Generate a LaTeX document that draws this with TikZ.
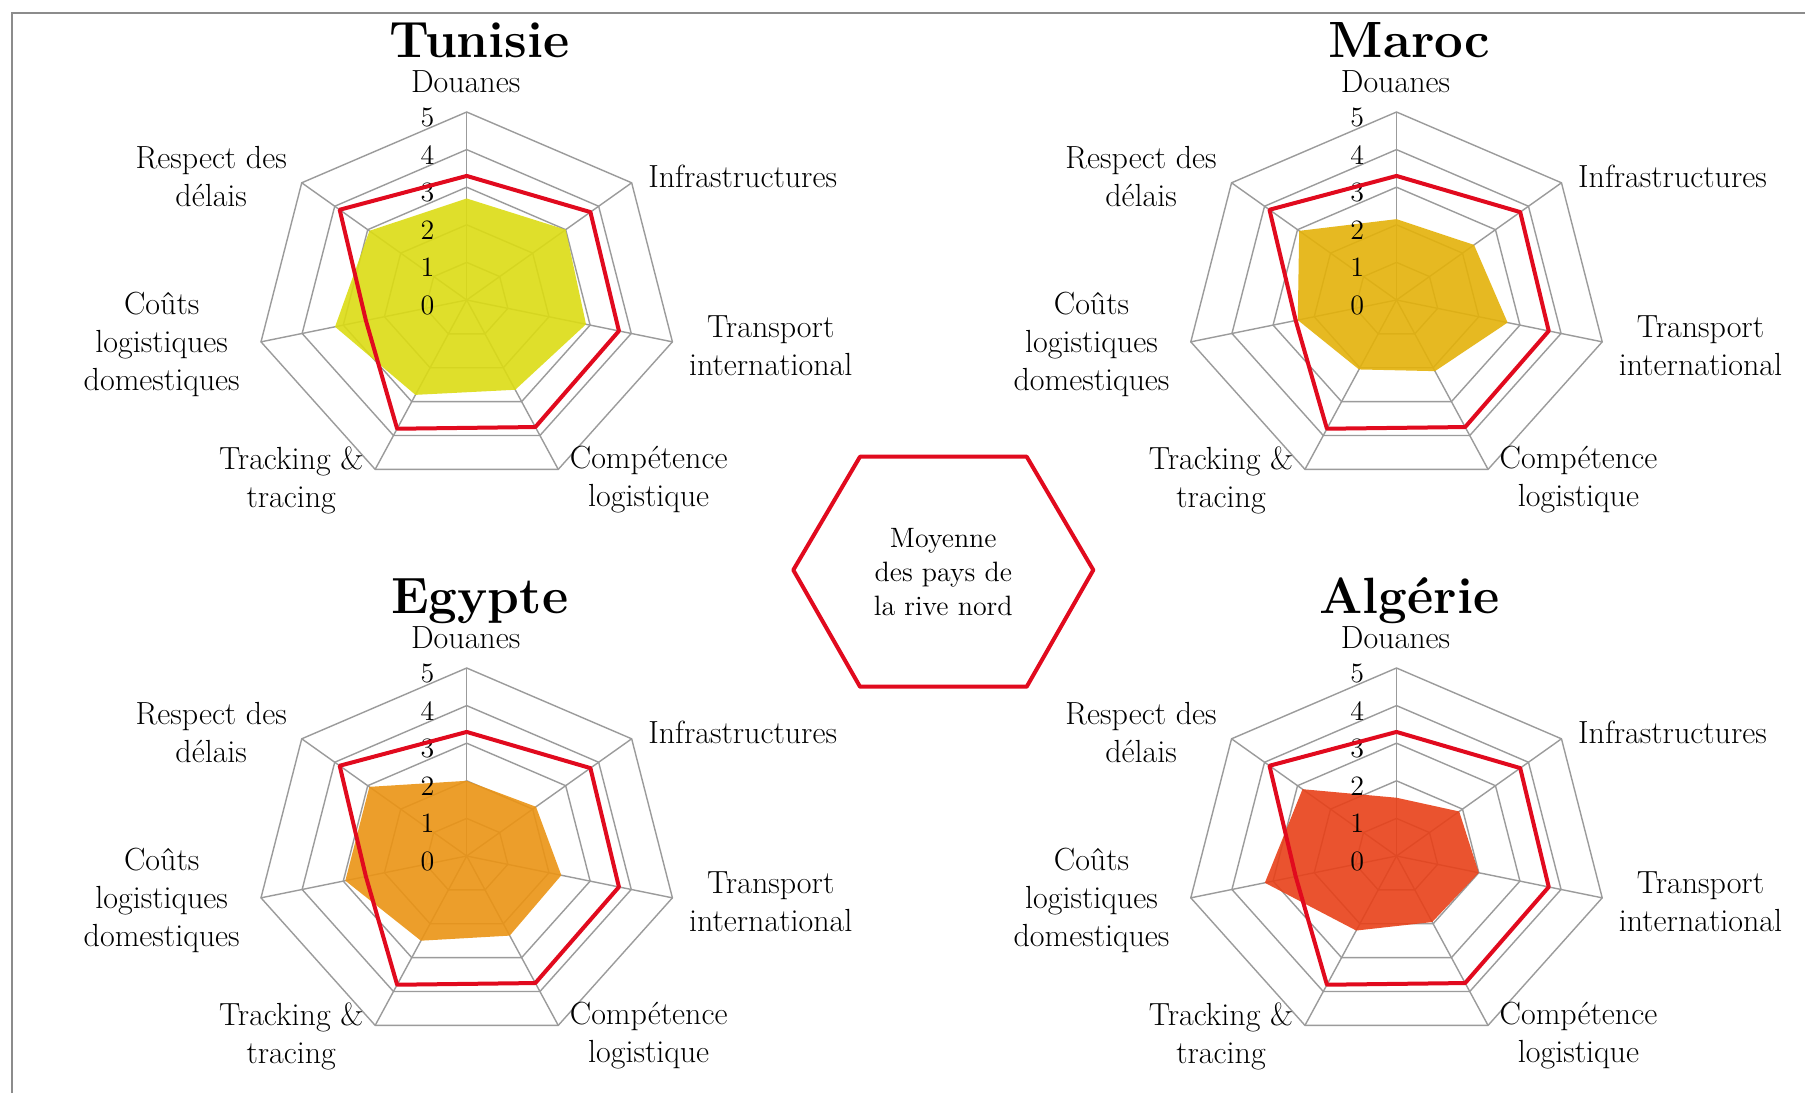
\documentclass[tikz,border=0pt]{standalone}
\definecolor{avgred}{RGB}{225,10,30}
\definecolor{gridgray}{RGB}{155,155,155}
\definecolor{framegray}{RGB}{140,140,140}
\definecolor{tunfill}{RGB}{220,220,20}
\definecolor{marfill}{RGB}{228,178,10}
\definecolor{egyfill}{RGB}{235,148,20}
\definecolor{algfill}{RGB}{232,65,25}
\tikzset{
  gridline/.style={draw=gridgray, line width=0.7pt},
  avgline/.style={draw=avgred, line width=2pt, line join=round},
  datafill/.style={fill=#1, fill opacity=0.9},
  charttitle/.style={font=\fontsize{25.5}{30}\selectfont\bfseries, anchor=base, inner sep=0pt},
  catlabel/.style={font=\fontsize{16}{19}\selectfont, align=center, inner sep=0pt},
  digitlabel/.style={font=\fontsize{14}{16}\selectfont, anchor=east, inner sep=0pt, xshift=-16pt, yshift=-2.5pt},
  legendtext/.style={font=\fontsize{14}{17}\selectfont, align=center, inner sep=0pt}
}
% #1 name, #2 cx, #3 cy, #4 title, #5 colour, #6 values
\newcommand\myradar[6]{%
  \begin{scope}[shift={(#2,#3)}, x=21.1pt, y=18.8pt]
    \foreach \r in {1,...,5}
      \draw[gridline] (90:\r) -- ({90-360/7}:\r) -- ({90-2*360/7}:\r) -- ({90-3*360/7}:\r)
        -- ({90-4*360/7}:\r) -- ({90-5*360/7}:\r) -- ({90-6*360/7}:\r) -- cycle;
    \coordinate (#1-c) at (0,0);
    \foreach \k in {0,...,6} {
      \coordinate (#1-a\k) at ({90-\k*360/7}:5);
      \draw[gridline] (#1-c) -- (#1-a\k);
    }
    \foreach \v [count=\i from 0] in {#6}
      \coordinate (#1-p\i) at ({90-\i*360/7}:\v);
    \foreach \v [count=\i from 0] in {3.3,3.75,3.7,3.75,3.8,2.45,3.85}
      \coordinate (#1-m\i) at ({90-\i*360/7}:\v);
    \fill[datafill=#5] (#1-p0) -- (#1-p1) -- (#1-p2) -- (#1-p3) -- (#1-p4) -- (#1-p5) -- (#1-p6) -- cycle;
    \foreach \v in {0,...,5}
      \node[digitlabel] (#1-d\v) at (0,\v) {\v};
    \draw[avgline] (#1-m0) -- (#1-m1) -- (#1-m2) -- (#1-m3) -- (#1-m4) -- (#1-m5) -- (#1-m6) -- cycle;
  \end{scope}
  \node[charttitle] (#1-title) at ({#2+13},{#3-243}) {#4};
  \node[catlabel] (#1-l0) at ({#2-1},{#3-218}) {Douanes};
  \node[catlabel] (#1-l1) at ({#2+276},{#3-124}) {Infrastructures};
  \node[catlabel] (#1-l2) at ({#2+304},{#3+45.5}) {Transport\\international};
  \node[catlabel] (#1-l3) at ({#2+182},{#3+180}) {Compétence\\logistique};
  \node[catlabel] (#1-l4) at ({#2-175.5},{#3+180}) {Tracking \&\\tracing};
  \node[catlabel] (#1-l5) at ({#2-305},{#3+44}) {Coûts\\logistiques\\domestiques};
  \node[catlabel] (#1-l6) at ({#2-255.5},{#3-123}) {Respect des\\délais};
}
\begin{document}
\begin{tikzpicture}[x=0.5pt, y=-0.5pt]
  \useasboundingbox (0,0) rectangle (1805,1093);
  \fill[white] (0,0) rectangle (1805,1093);
  \draw[framegray, line width=1pt] (11.7,1093) -- (11.7,13.3) -- (1805,13.3);
  \myradar{tun}{466.7}{300}{Tunisie}{tunfill}{2.7,3.0,2.9,2.65,2.8,3.2,2.95}
  \myradar{mar}{1396.5}{300}{Maroc}{marfill}{2.15,2.35,2.7,2.1,2.05,2.4,2.95}
  \myradar{egy}{466.7}{856}{Egypte}{egyfill}{2.0,2.1,2.3,2.35,2.5,2.95,2.95}
  \myradar{alg}{1396.5}{856}{Algérie}{algfill}{1.55,1.9,2.0,1.95,2.2,3.2,2.85}
  \coordinate (h1) at (793.3,570);
  \coordinate (h2) at (860,456.7);
  \coordinate (h3) at (1026.7,456.7);
  \coordinate (h4) at (1093.3,570);
  \coordinate (h5) at (1026.7,686.7);
  \coordinate (h6) at (860,686.7);
  \draw[avgline] (h1) -- (h2) -- (h3) -- (h4) -- (h5) -- (h6) -- cycle;
  \node[legendtext] (legend) at (943.3,572) {Moyenne\\des pays de\\la rive nord};
\end{tikzpicture}
\end{document}
